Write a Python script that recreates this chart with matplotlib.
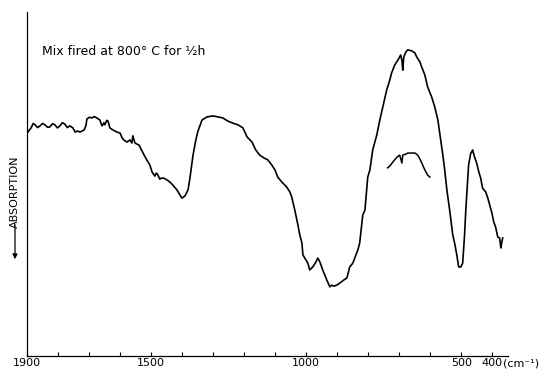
import numpy as np
import matplotlib
matplotlib.use("Agg")
import matplotlib.pyplot as plt

# wavenumber (cm-1) and relative transmission (%)
wn = [1900, 1897, 1887, 1880, 1874, 1866, 1858, 1850, 1842, 1834, 1826, 1818,
      1810, 1802, 1794, 1786, 1778, 1770, 1762, 1752, 1745, 1737, 1729, 1716,
      1710, 1707, 1699, 1691, 1683, 1675, 1665, 1661, 1658, 1652, 1649, 1643,
      1639, 1633, 1623, 1610, 1600, 1594, 1588, 1578, 1568, 1562, 1559, 1552,
      1539, 1526, 1514, 1504, 1497, 1488, 1483, 1478, 1472, 1468, 1459, 1449,
      1440, 1430, 1417, 1407, 1401, 1391, 1381, 1375, 1365, 1356, 1349, 1336,
      1320, 1301, 1285, 1269, 1253, 1237, 1220, 1204, 1191, 1175, 1163, 1150,
      1137, 1124, 1111, 1101, 1092, 1079, 1063, 1053, 1047, 1037, 1027, 1021,
      1014, 1011, 1001, 995, 989, 979, 969, 963, 956, 947, 934, 924, 918, 911,
      902, 892, 879, 869, 860, 850, 834, 828, 818, 811, 802, 795, 786, 773,
      763, 750, 741, 731, 725, 715, 705, 696, 692, 689, 686, 679, 673, 660,
      650, 644, 634, 628, 618, 609, 596, 586, 576, 570, 560, 554, 547, 538,
      528, 522, 515, 509, 502, 496, 490, 486, 480, 477, 470, 467, 464, 457,
      451, 444, 438, 432, 422, 415, 409, 402, 396, 390, 383, 377, 373, 370,
      367]
trans = [64.8, 65.1, 66.3, 67.6, 67.2, 66.4, 66.9, 67.6, 67.2, 66.5, 66.6,
         67.5, 67.2, 66.3, 66.9, 67.8, 67.4, 66.4, 66.9, 66.3, 65.1, 65.4,
         65.1, 65.7, 67.0, 68.9, 69.4, 69.2, 69.6, 69.2, 68.6, 67.5, 66.9,
         67.8, 67.2, 68.5, 68.3, 66.3, 65.7, 65.1, 64.8, 63.5, 62.8, 62.2,
         62.8, 61.9, 64.0, 61.9, 61.3, 59.0, 57.0, 55.5, 53.5, 52.3, 53.2,
         52.6, 51.4, 51.7, 51.7, 51.2, 50.6, 49.7, 48.3, 46.8, 45.9, 46.5,
         48.3, 51.7, 58.4, 62.8, 65.4, 68.6, 69.5, 69.8, 69.5, 69.2, 68.3,
         67.7, 67.2, 66.3, 63.7, 62.2, 59.9, 58.4, 57.6, 57.0, 55.5, 54.1,
         52.0, 50.6, 49.1, 47.7, 46.2, 42.4, 38.1, 35.2, 32.8, 29.4, 27.9,
         27.0, 25.0, 25.9, 27.3, 28.5, 27.3, 25.0, 22.1, 20.1, 20.6, 20.3,
         20.6, 21.2, 22.1, 22.7, 25.9, 27.0, 30.8, 32.8, 41.0, 42.4, 52.0,
         54.1, 59.9, 64.2, 68.6, 73.8, 77.3, 80.2, 82.3, 84.6, 86.0, 87.5,
         86.0, 83.1, 86.9, 88.4, 89.0, 88.7, 88.1, 86.9, 85.5, 84.0, 81.7,
         78.2, 75.3, 72.4, 68.6, 64.8, 58.4, 54.1, 48.3, 42.4, 35.2, 32.8,
         29.4, 25.9, 25.9, 27.0, 35.2, 42.4, 51.2, 55.5, 59.0, 59.3, 59.9,
         57.6, 56.1, 53.5, 51.7, 48.8, 47.7, 45.9, 43.9, 41.6, 39.0, 37.5,
         34.6, 34.3, 31.4, 33.1, 34.3]

# second, weaker trace over the 700 cm-1 band
wn2 = [738, 731, 721, 708, 699, 692, 689, 679, 673, 660, 650, 641, 634, 628,
       618, 609, 602]
trans2 = [54.7, 55.2, 56.4, 57.8, 58.4, 56.1, 58.4, 58.7, 59.0, 59.0, 59.0,
          58.4, 57.3, 56.1, 54.1, 52.6, 52.0]

major_ticks = [1900, 1500, 1000, 500, 400]
minor_ticks = [1800, 1700, 1600, 1400, 1300, 1200, 1100, 900, 800, 700, 600]

fig = plt.figure(figsize=(5.41, 3.73), dpi=100)
ax = fig.add_axes([27/541, 17/373, 481/541, 344/373])

ax.plot(wn, trans, color="black", lw=1.2)
ax.plot(wn2, trans2, color="black", lw=1.1)

ax.set_xlim(1900, 350)
ax.set_ylim(0, 100)

for s in ["top", "right"]:
    ax.spines[s].set_visible(False)
ax.spines["left"].set_linewidth(0.9)
ax.spines["bottom"].set_linewidth(0.9)

ax.set_yticks([])
ax.set_xticks(major_ticks)
ax.set_xticklabels([str(t) for t in major_ticks], fontsize=8)
ax.set_xticks(minor_ticks, minor=True)
ax.tick_params(axis="x", which="both", direction="in", length=3, width=0.8,
               pad=1.5)

ax.text(366, -0.006, "(cm⁻¹)", transform=ax.get_xaxis_transform(),
        ha="left", va="top", fontsize=8)

ax.text(1852, 0.885, "Mix fired at 800° C for ½h", transform=ax.get_xaxis_transform(),
        ha="left", va="center", fontsize=9)

# ABSORPTION label with downward arrow
fig.text(15/541, 1 - 192/373, "ABSORPTION", rotation=90, ha="center",
         va="center", fontsize=8)
ax.annotate("", xy=(15, 373 - 262), xytext=(15, 373 - 222),
            xycoords="figure pixels", textcoords="figure pixels",
            arrowprops=dict(arrowstyle="-|>", color="black", lw=0.9,
                            mutation_scale=7))

fig.savefig("out.png", dpi=100)
